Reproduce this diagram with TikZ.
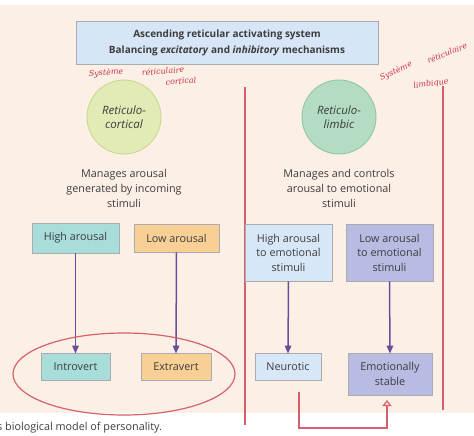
\documentclass[tikz,border=0pt]{standalone}
\usepackage{fontspec}
\setmainfont{Open Sans}
\newfontfamily\handfont{DejaVu Serif}
\usetikzlibrary{arrows.meta,shapes.geometric}
\definecolor{peach}{HTML}{FCF0E6}
\definecolor{txt}{HTML}{3C3C3C}
\definecolor{titlefill}{HTML}{D6E6F6}
\definecolor{boxline}{HTML}{A9ABAE}
\definecolor{tealfill}{HTML}{A9DDD9}
\definecolor{orangefill}{HTML}{F8CF94}
\definecolor{lbluefill}{HTML}{D8E7F7}
\definecolor{lavfill}{HTML}{B8BCE3}
\definecolor{cyellow}{HTML}{E2EBB6}
\definecolor{cyellowline}{HTML}{C9D98E}
\definecolor{cgreen}{HTML}{B4DCC3}
\definecolor{cgreenline}{HTML}{8FC7A3}
\definecolor{redline}{HTML}{D6606D}
\definecolor{handred}{HTML}{C8334A}
\definecolor{purp}{HTML}{6A4C9C}
\tikzset{
  box/.style={draw=boxline, line width=0.9pt, text=txt, align=center, inner sep=2pt, font=\fontsize{10.8}{12}\selectfont},
  circ/.style={circle, line width=0.9pt, minimum size=74pt, text=txt, align=center, font=\itshape\fontsize{11.5}{14}\selectfont},
  desc/.style={text=txt, align=center, font=\fontsize{10.8}{15}\selectfont},
  parr/.style={draw=purp, line width=1.5pt, -{Triangle[length=8pt,width=6.5pt]}},
  redl/.style={draw=redline, line width=1.2pt},
  hand/.style={text=handred, font=\handfont\itshape\fontsize{8}{9}\selectfont, inner sep=0pt},
}
\begin{document}
\begin{tikzpicture}[x=1pt,y=-1pt]
\useasboundingbox (0,0) rectangle (474,436);
\fill[peach] (0,5) rectangle (474,413);

\node[box, fill=titlefill, minimum width=302pt, minimum height=43pt, font=\bfseries\fontsize{10}{16}\selectfont] (title) at (227,42.5)
  {Ascending reticular activating system\\Balancing \textit{excitatory} and \textit{inhibitory} mechanisms};

\node[hand, rotate=4] (h1) at (106,73) {Système};
\node[hand, rotate=4] (h2) at (163,71) {réticulaire};
\node[hand, rotate=4] (h3) at (181,81) {cortical};
\node[hand, rotate=25] (h4) at (396,71) {Système};
\node[hand, rotate=22] (h5) at (447,53) {réticulaire};
\node[hand, rotate=8] (h6) at (431,84) {limbique};

\node[circ, draw=cyellowline, fill=cyellow] (rc) at (124,117) {Reticulo-\\cortical};
\node[circ, draw=cgreenline, fill=cgreen] (rl) at (339,117) {Reticulo-\\limbic};

\draw[redl] (245,87) -- (245,425);
\draw[redl] (443,86) -- (443,410);

\node[desc] (d1) at (124,188) {Manages arousal\\generated by incoming\\stimuli};
\node[desc] (d2) at (339,188) {Manages and controls\\arousal to emotional\\stimuli};

\node[box, fill=tealfill, minimum width=87pt, minimum height=30pt] (ha) at (75.5,238) {High arousal};
\node[box, fill=orangefill, minimum width=85pt, minimum height=28pt] (la) at (176.5,238) {Low arousal};
\node[box, fill=lbluefill, minimum width=87pt, minimum height=57pt, font=\fontsize{10.8}{14.5}\selectfont] (hae) at (288.5,252.5) {High arousal\\to emotional\\stimuli};
\node[box, fill=lavfill, minimum width=87pt, minimum height=57pt, font=\fontsize{10.8}{14.5}\selectfont] (lae) at (389.5,252.5) {Low arousal\\to emotional\\stimuli};

\node[box, fill=tealfill, minimum width=69pt, minimum height=27pt] (intro) at (75.5,366.5) {Introvert};
\node[box, fill=orangefill, minimum width=70pt, minimum height=27pt] (extra) at (176,366.5) {Extravert};
\node[box, fill=lbluefill, minimum width=66pt, minimum height=27pt] (neur) at (288,366.5) {Neurotic};
\node[box, fill=lavfill, minimum width=84pt, minimum height=42pt, font=\fontsize{10.8}{14.5}\selectfont] (stab) at (390,374) {Emotionally\\stable};

\draw[parr] (ha.south) -- ([yshift=-1pt]intro.north);
\draw[parr] (la.south) -- ([yshift=-1pt]extra.north);
\draw[parr] (hae.south) -- ([yshift=-1pt]neur.north);
\draw[parr] (lae.south) -- ([yshift=-1pt]stab.north);

\node[ellipse, redl, minimum width=222pt, minimum height=82pt] (oval) at (124,374) {};

\coordinate (rs) at (299,392);
\coordinate (re) at (387,400);
\draw[redl, -{Triangle[open,length=6pt,width=9pt]}] (rs) -- (299,428) -| (re);

\node[anchor=base west, inner sep=0pt, text=txt, font=\fontsize{10.8}{12}\selectfont] (cap) at (-3,430) {s biological model of personality.};
\end{tikzpicture}
\end{document}
